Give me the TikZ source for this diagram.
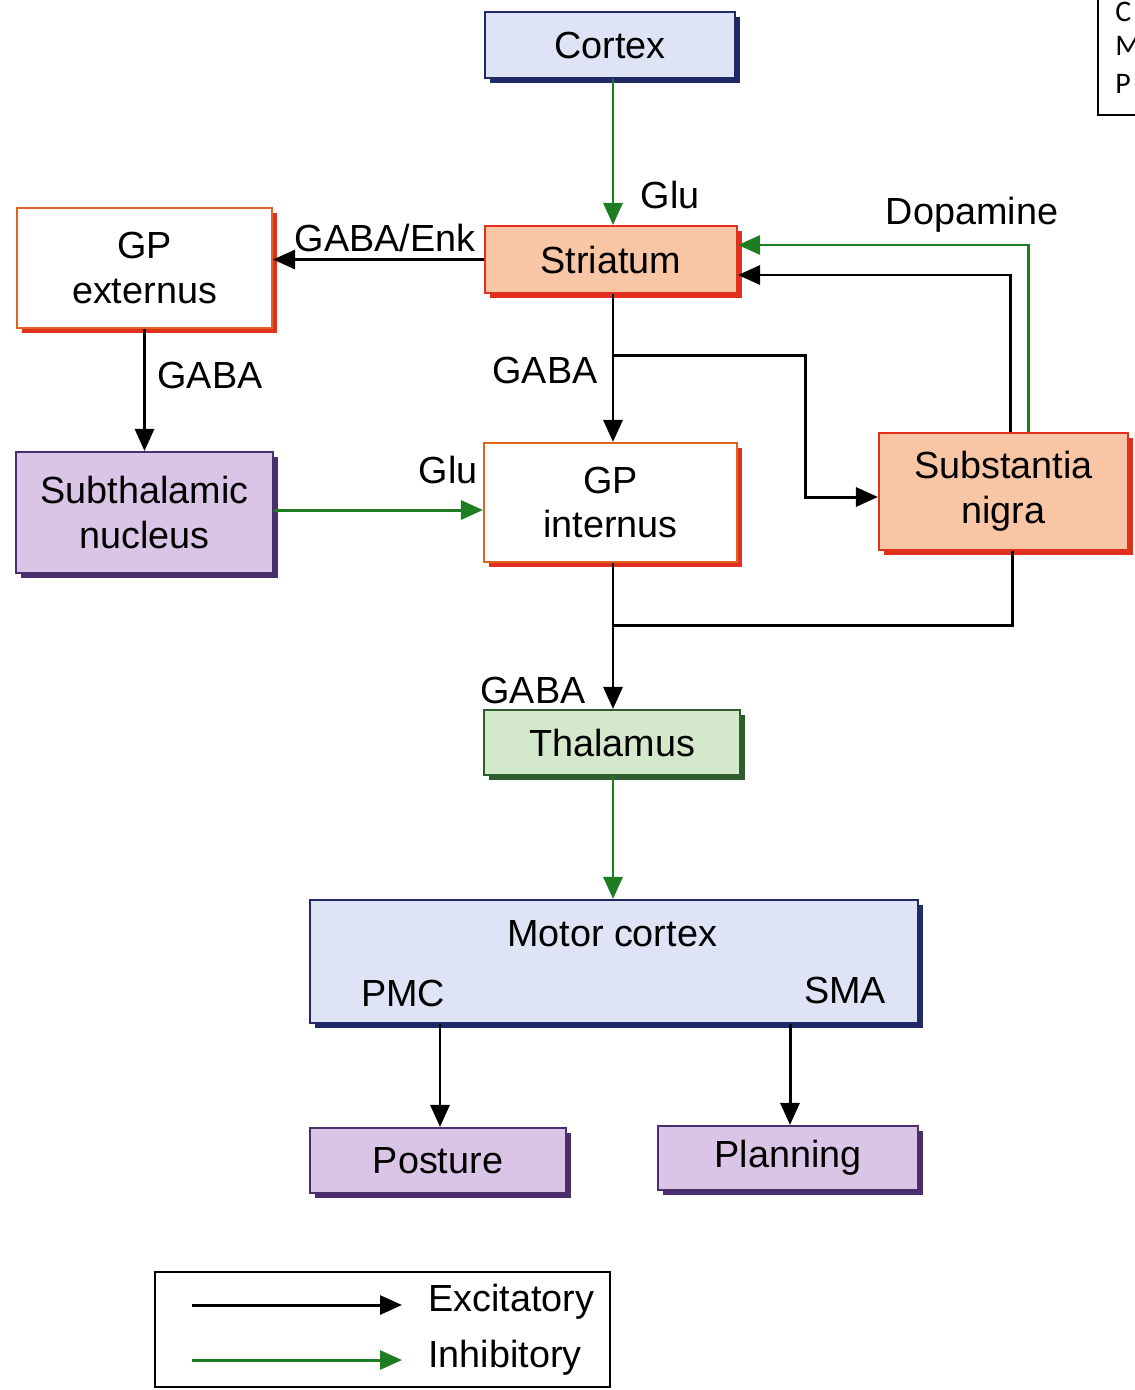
\documentclass[tikz,border=0pt]{standalone}
\usepackage{fontspec}
\setmainfont{Liberation Sans}
\newfontfamily\notefont{Carlito}
\usetikzlibrary{arrows.meta,shadows}

\definecolor{navy}{HTML}{1F2A66}
\definecolor{bluefill}{HTML}{DEE3F5}
\definecolor{peach}{HTML}{F8C5A5}
\definecolor{redline}{HTML}{E2301E}
\definecolor{orangeline}{HTML}{E0641E}
\definecolor{lilac}{HTML}{DBC5E6}
\definecolor{plum}{HTML}{4B2E6E}
\definecolor{mint}{HTML}{D4E8CC}
\definecolor{darkgreen}{HTML}{2E5E2E}
\definecolor{excgreen}{HTML}{1E7D22}

\tikzset{
  box/.style={draw, line width=1.2pt, align=center, inner sep=0pt,
    font=\fontsize{21.5}{25.5}\selectfont},
  bluebox/.style={box, draw=navy, fill=bluefill,
    general shadow={fill=navy, shadow xshift=2.8pt, shadow yshift=-2.8pt}},
  peachbox/.style={box, draw=redline, fill=peach,
    general shadow={fill=redline, shadow xshift=2.8pt, shadow yshift=-2.8pt}},
  whitebox/.style={box, draw=orangeline, fill=white,
    general shadow={fill=redline, shadow xshift=2.8pt, shadow yshift=-2.8pt}},
  lilacbox/.style={box, draw=plum, fill=lilac,
    general shadow={fill=plum, shadow xshift=2.8pt, shadow yshift=-2.8pt}},
  greenbox/.style={box, draw=darkgreen, fill=mint,
    general shadow={fill=darkgreen, shadow xshift=2.8pt, shadow yshift=-2.8pt}},
  exc/.style={line width=1.7pt, -{Triangle[length=0.44cm, width=0.38cm]}},
  inh/.style={exc, excgreen},
  lbl/.style={font=\fontsize{21.5}{25}\selectfont, inner sep=0pt}
}

\begin{document}
\begin{tikzpicture}[x=0.02cm, y=-0.02cm]

    % Page size
    \def\W{1134}
    \def\H{1390}
    \def\cx{613}
    \useasboundingbox (0,0) rectangle (\W,\H);

    % Note box at the top right
    \draw[line width=0.8pt] (1098,-10) -- (1098,115) -- (1160,115);
    \node[anchor=west, inner sep=0pt, font=\notefont\fontsize{17}{20}\selectfont] (noteC) at (1115,12) {C};
    \node[anchor=west, inner sep=0pt, font=\notefont\fontsize{17}{20}\selectfont] (noteM) at (1115,46) {M};
    \node[anchor=west, inner sep=0pt, font=\notefont\fontsize{17}{20}\selectfont] (noteP) at (1115,84) {P};

    % Boxes
    \node[bluebox, minimum width=5cm, minimum height=1.32cm] (cortex) at (610,45) {Cortex};
    \node[peachbox, minimum width=5.04cm, minimum height=1.34cm] (striatum) at (611,259.5) {Striatum};
    \node[whitebox, minimum width=5.1cm, minimum height=2.4cm] (gpe) at (144.5,268) {GP\\externus};
    \node[lilacbox, minimum width=5.14cm, minimum height=2.42cm] (stn) at (144.5,512.5) {Subthalamic\\nucleus};
    \node[whitebox, minimum width=5.06cm, minimum height=2.38cm] (gpi) at (610.5,502.5) {GP\\internus};
    \node[peachbox, minimum width=4.98cm, minimum height=2.34cm] (snr) at (1003.5,491.5) {Substantia\\nigra};
    \node[greenbox, minimum width=5.12cm, minimum height=1.3cm] (thal) at (612,742.5) {Thalamus};
    \node[bluebox, minimum width=12.16cm, minimum height=2.46cm] (motor) at (614,961.5) {};
    \node[lilacbox, minimum width=5.12cm, minimum height=1.3cm] (posture) at (438,1160.5) {Posture};
    \node[lilacbox, minimum width=5.2cm, minimum height=1.28cm] (plan) at (788,1158) {Planning};

    % Texts inside the motor cortex
    \node[lbl] (mctitle) at (612,934) {Motor cortex};
    \node[lbl] (pmc) at (403,993) {PMC};
    \node[lbl] (sma) at (845,990) {SMA};

    % Branch points
    \coordinate (split) at (\cx,355);
    \coordinate (bend) at (805,355);
    \coordinate (join) at (\cx,625);
    \coordinate (snbend) at (1012,625);

    % Pathways
    \draw[inh] (cortex.south -| \cx,0) -- (striatum.north -| \cx,0);
    \draw[exc] (striatum.west) -- (gpe.east |- striatum.west);
    \draw[exc] (gpe) -- (stn);
    \draw[inh] (stn.east |- 0,510) -- (gpi.west |- 0,510);
    \draw[exc] (striatum.south -| \cx,0) -- (gpi.north -| \cx,0);
    \draw[exc] (split) -- (bend) -- (bend |- 0,497) -- (snr.west |- 0,497);
    \draw[inh] (snr.north -| 1028,0) |- (striatum.east |- 0,245);
    \draw[exc] (snr.north -| 1010,0) |- (striatum.east |- 0,275);
    \draw[exc] (gpi.south -| \cx,0) -- (thal.north -| \cx,0);
    \draw[line width=1.7pt] (snr.south -| snbend) -- (snbend) -- (join);
    \draw[inh] (thal.south -| \cx,0) -- (motor.north -| \cx,0);
    \draw[exc] (motor.south -| 440,0) -- (posture.north -| 440,0);
    \draw[exc] (motor.south -| 790,0) -- (plan.north -| 790,0);

    % Labels
    \node[lbl] (glu1) at (670,195) {Glu};
    \node[lbl] (enk) at (385,238) {GABA/Enk};
    \node[lbl] (gaba1) at (210,375) {GABA};
    \node[lbl] (gaba2) at (545,370) {GABA};
    \node[lbl] (glu2) at (448,470) {Glu};
    \node[lbl] (dopa) at (972,215) {Dopamine};
    \node[lbl] (gaba3) at (533,690) {GABA};

    % Legend
    \node[draw, line width=1.1pt, minimum width=9.1cm, minimum height=2.3cm] (legend) at (382.5,1329.5) {};
    \coordinate (exA) at (192,1305);
    \coordinate (exB) at (402,1305);
    \coordinate (inA) at (192,1360);
    \coordinate (inB) at (402,1360);
    \draw[exc] (exA) -- (exB);
    \draw[inh] (inA) -- (inB);
    \node[lbl, anchor=west] (exlbl) at (428,1302) {Excitatory};
    \node[lbl, anchor=west] (inlbl) at (428,1358) {Inhibitory};

\end{tikzpicture}
\end{document}
